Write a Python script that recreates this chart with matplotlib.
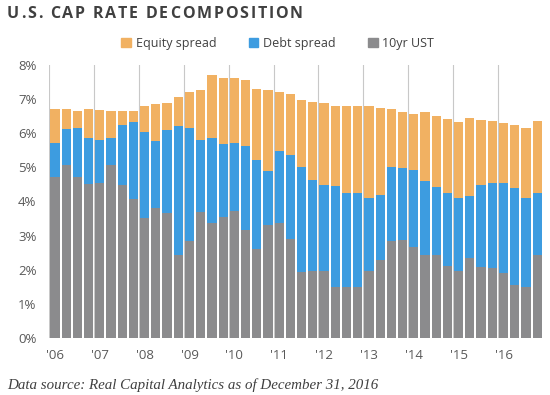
import matplotlib
matplotlib.use("Agg")
import matplotlib.pyplot as plt
from matplotlib.transforms import IdentityTransform
from matplotlib.patches import Patch
import numpy as np

# ---- data (quarterly, 2006Q1 .. 2016Q4) ----
year_labels = ["'06", "'07", "'08", "'09", "'10", "'11", "'12", "'13", "'14", "'15", "'16"]
ust_10yr = [4.73, 5.08, 4.73, 4.52, 4.55, 5.08, 4.49, 4.08, 3.52, 3.81, 3.66, 2.42,
            2.83, 3.68, 3.36, 3.56, 3.73, 3.17, 2.60, 3.31, 3.36, 2.90, 1.94, 1.95,
            1.95, 1.49, 1.49, 1.49, 1.95, 2.29, 2.83, 2.87, 2.68, 2.42, 2.42, 2.10,
            1.96, 2.34, 2.08, 2.05, 1.90, 1.55, 1.50, 2.42]
debt_spread = [0.98, 1.05, 1.42, 1.34, 1.25, 0.78, 1.76, 2.24, 2.51, 1.95, 2.44, 3.78,
               3.32, 2.11, 2.50, 2.12, 1.99, 2.45, 2.63, 1.57, 2.11, 2.47, 3.08, 2.68,
               2.53, 2.97, 2.77, 2.75, 2.15, 1.90, 2.17, 2.11, 2.23, 2.19, 2.00, 2.16,
               2.14, 1.83, 2.41, 2.49, 2.64, 2.85, 2.60, 1.84]
equity_spread = [0.99, 0.57, 0.49, 0.84, 0.87, 0.78, 0.39, 0.34, 0.78, 1.10, 0.78, 0.85,
                 1.05, 1.48, 1.85, 1.93, 1.91, 1.93, 2.07, 2.39, 1.73, 1.77, 1.94, 2.30,
                 2.42, 2.34, 2.54, 2.55, 2.69, 2.55, 1.72, 1.64, 1.65, 2.01, 2.08, 2.17,
                 2.24, 2.28, 1.91, 1.81, 1.77, 1.84, 2.05, 2.10]
series_names = ["Equity spread", "Debt spread", "10yr UST"]
title = "U.S. CAP RATE DECOMPOSITION"
source = "Data source: Real Capital Analytics as of December 31, 2016"

# ---- style ----
c_eq = "#F1B162"
c_debt = "#3D9CE0"
c_ust = "#8B8B8D"
txt_col = "#595959"

W, H = 550, 395
fig = plt.figure(figsize=(5.5, 3.95), dpi=100)
ax = fig.add_axes([49 / W, 1 - 338 / H, (545 - 49) / W, (338 - 65) / H])

x = np.arange(len(ust_10yr))
ust = np.array(ust_10yr)
debt = np.array(debt_spread)
eq = np.array(equity_spread)
bw = 0.82
ax.bar(x, ust, width=bw, color=c_ust, zorder=2)
ax.bar(x, debt, width=bw, bottom=ust, color=c_debt, zorder=2)
ax.bar(x, eq, width=bw, bottom=ust + debt, color=c_eq, zorder=2)

ax.set_xlim(-0.53, len(x) - 0.3)
ax.set_ylim(0, 8)
ax.set_yticks(np.arange(0, 9, 1))
ax.set_yticklabels([f"{v}%" for v in range(0, 9)])
ax.set_xticks(np.arange(len(year_labels)) * 4)
ax.set_xticklabels(year_labels)
for xv in np.arange(len(year_labels)) * 4 - 0.5:
    ax.axvline(xv, color="#C8C8C8", lw=0.8, zorder=1)
for s in ax.spines.values():
    s.set_visible(False)
ax.tick_params(length=0, labelsize=9.5, colors=txt_col)
ax.tick_params(axis="y", pad=9)
ax.tick_params(axis="x", pad=8)
for lab in ax.get_xticklabels() + ax.get_yticklabels():
    lab.set_fontfamily("Open Sans")

# legend
handles = [Patch(color=c) for c in (c_eq, c_debt, c_ust)]
leg = fig.legend(handles, series_names, loc="center", bbox_to_anchor=(0.505, 1 - 43 / H),
                 ncol=3, frameon=False, handlelength=0.75, handleheight=0.75,
                 handletextpad=0.4, columnspacing=2.6,
                 prop={"family": "Open Sans", "size": 9})
for t in leg.get_texts():
    t.set_color("#404040")

# title with letter spacing
renderer = fig.canvas.get_renderer()
x_start, x_end = 7, 303
base_y = H - 18
chars = []
for ch in title:
    t = fig.text(0, base_y, ch, transform=IdentityTransform(), fontsize=11.5,
                 fontweight="bold", family="Open Sans", color="#404040", va="baseline")
    chars.append(t)
widths = [t.get_window_extent(renderer).width if ch != " " else 0 for t, ch in zip(chars, title)]
space_w = 4.0
widths = [w if ch != " " else space_w for w, ch in zip(widths, title)]
track = (x_end - x_start - sum(widths)) / (len(title) - 1)
cx = x_start
for t, w in zip(chars, widths):
    t.set_x(cx)
    cx += w + track

# source
fig.text(7 / W, 1 - 389 / H, source, fontsize=10.8, style="italic",
         family="Liberation Serif", color="#404040", va="baseline")

fig.savefig("out.png", dpi=100)
